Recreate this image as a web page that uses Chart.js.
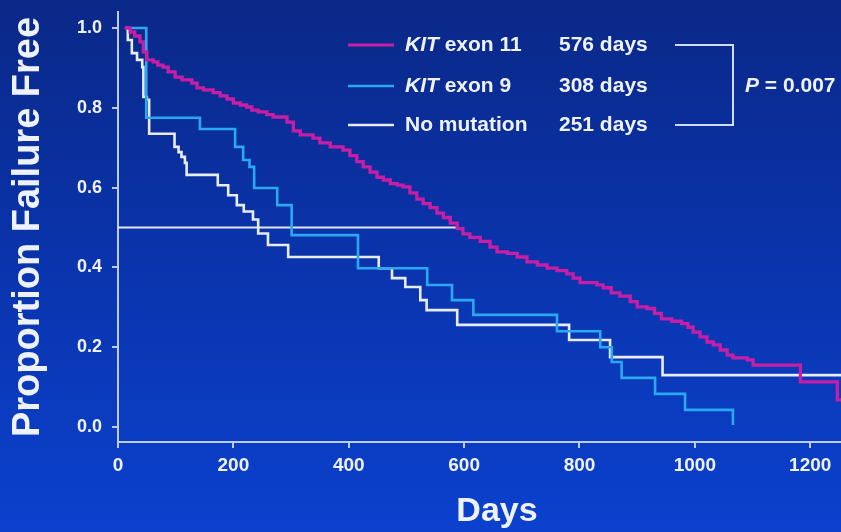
<!DOCTYPE html>
<html><head><meta charset="utf-8">
<script src="https://cdn.jsdelivr.net/npm/chart.js@4.4.0/dist/chart.umd.min.js"></script>
<style>
html,body{margin:0;padding:0;overflow:hidden;background:#0a34ad;}
#wrap{position:relative;width:876px;height:532px;}
</style>
</head><body>
<div id="wrap"><canvas id="c" width="876" height="532"></canvas></div>
<script>
// ---- data ----
const kit11Days = [12,21,29,38,44,50,61,69,78,87,99,111,128,137,148,165,177,189,200,212,223,232,243,258,269,293,304,316,338,350,368,390,402,414,425,437,449,460,472,484,494,506,518,529,541,553,564,576,588,598,610,628,645,657,675,692,709,727,744,761,778,789,801,830,841,855,870,888,900,917,930,942,960,977,988,997,1009,1021,1032,1044,1056,1066,1091,1101,1183,1247,1310];
const kit11Surv = [1.0,0.99,0.98,0.965,0.94,0.92,0.915,0.907,0.902,0.89,0.877,0.87,0.862,0.85,0.845,0.838,0.83,0.822,0.812,0.807,0.802,0.794,0.79,0.783,0.777,0.764,0.742,0.732,0.724,0.712,0.702,0.694,0.68,0.665,0.652,0.639,0.626,0.619,0.61,0.606,0.602,0.587,0.571,0.56,0.55,0.536,0.525,0.511,0.497,0.484,0.475,0.465,0.451,0.439,0.435,0.426,0.414,0.406,0.398,0.392,0.384,0.373,0.362,0.356,0.349,0.336,0.328,0.314,0.301,0.297,0.285,0.271,0.265,0.259,0.25,0.238,0.226,0.213,0.206,0.193,0.18,0.173,0.168,0.155,0.113,0.068,0.068];

const kit9Days = [12,49,142,203,217,228,236,276,301,416,536,579,616,761,836,856,873,931,983,1066];
const kit9Surv = [1.0,0.775,0.747,0.702,0.669,0.652,0.599,0.556,0.481,0.398,0.356,0.318,0.281,0.24,0.2,0.163,0.123,0.083,0.043,0.005];

const noMutDays = [12,17,24,33,42,44,50,54,98,105,110,116,119,173,191,206,218,234,243,260,295,452,475,498,524,535,588,782,853,944,1310];
const noMutSurv = [1.0,0.97,0.937,0.92,0.902,0.827,0.82,0.735,0.702,0.689,0.677,0.662,0.632,0.606,0.581,0.556,0.54,0.52,0.485,0.456,0.426,0.398,0.373,0.351,0.318,0.293,0.256,0.218,0.175,0.13,0.13];

const medianDays = [0, 588];
const medianSurv = [0.5, 0.5];

const xTicks = [0,200,400,600,800,1000,1200];
const yTicks = [0,0.2,0.4,0.6,0.8,1.0];

const legendItalic = ['KIT','KIT',''];
const legendRest = [' exon 11',' exon 9','No mutation'];
const medianLabels = ['576 days','308 days','251 days'];
const pItalic = 'P';
const pRest = ' = 0.007';
const xTitle = 'Days';
const yTitle = 'Proportion Failure Free';

// ---- styling ----
const FONT = '"Liberation Sans", Arial, Helvetica, sans-serif';
const C_MAG = '#c81ea6', C_BLUE = '#2aa8f2', C_WHITE = '#e6ecfa', C_AXIS = '#bccbf2', C_TEXT = '#eef2ff';
const zip = (xs, ys) => xs.map((x, i) => ({x, y: ys[i]}));

const bgPlugin = {
  id: 'bg',
  beforeDraw(chart) {
    const ctx = chart.ctx, w = chart.width, h = chart.height;
    const g = ctx.createLinearGradient(0, 0, 0, h);
    g.addColorStop(0, '#0a2887');
    g.addColorStop(0.5, '#0a34ad');
    g.addColorStop(1, '#0b41cd');
    ctx.save(); ctx.fillStyle = g; ctx.fillRect(0, 0, w, h); ctx.restore();
  }
};

const legendPlugin = {
  id: 'kmLegend',
  afterDraw(chart) {
    const ctx = chart.ctx;
    const rows = [45, 86, 125];
    const cols = [C_MAG, C_BLUE, C_WHITE];
    ctx.save();
    ctx.textBaseline = 'middle';
    ctx.fillStyle = C_TEXT;
    rows.forEach((y, i) => {
      ctx.strokeStyle = cols[i]; ctx.lineWidth = i === 0 ? 3.2 : 2.6;
      ctx.beginPath(); ctx.moveTo(348, y); ctx.lineTo(394, y); ctx.stroke();
      let x = 405;
      if (legendItalic[i]) {
        ctx.font = 'italic bold 21px ' + FONT;
        ctx.fillText(legendItalic[i], x, y);
        x += ctx.measureText(legendItalic[i]).width;
      }
      ctx.font = 'bold 21px ' + FONT;
      ctx.fillText(legendRest[i], x, y);
      ctx.fillText(medianLabels[i], 559, y);
    });
    ctx.strokeStyle = '#d0dcff'; ctx.lineWidth = 2;
    ctx.beginPath();
    ctx.moveTo(675, rows[0]); ctx.lineTo(733, rows[0]); ctx.lineTo(733, rows[2]); ctx.lineTo(675, rows[2]);
    ctx.stroke();
    let px = 745;
    ctx.font = 'italic bold 21px ' + FONT;
    ctx.fillText(pItalic, px, rows[1]);
    px += ctx.measureText(pItalic).width;
    ctx.font = 'bold 21px ' + FONT;
    ctx.fillText(pRest, px, rows[1]);
    ctx.restore();
  }
};

Chart.defaults.font.family = FONT;

new Chart(document.getElementById('c'), {
  type: 'line',
  data: {
    datasets: [
      {data: zip(kit11Days, kit11Surv), borderColor: C_MAG, borderWidth: 3.3, stepped: true},
      {data: zip(kit9Days, kit9Surv), borderColor: C_BLUE, borderWidth: 2.6, stepped: true},
      {data: zip(noMutDays, noMutSurv), borderColor: C_WHITE, borderWidth: 2.6, stepped: true},
      {data: zip(medianDays, medianSurv), borderColor: '#dfe7ff', borderWidth: 2}
    ]
  },
  options: {
    responsive: false,
    devicePixelRatio: 1,
    animation: false,
    layout: {padding: {top: 12, left: 0, right: 0, bottom: 0}},
    elements: {point: {radius: 0}, line: {tension: 0, fill: false, borderCapStyle: 'butt', borderJoinStyle: 'miter'}},
    plugins: {legend: {display: false}, tooltip: {enabled: false}},
    scales: {
      x: {
        type: 'linear', min: 0, max: 1314,
        afterFit(s) { s.height = 90; s.paddingLeft = 0; s.paddingRight = 0; },
        afterBuildTicks(s) { s.ticks = xTicks.map(v => ({value: v})); },
        ticks: {color: C_TEXT, font: {size: 19, weight: 'bold'}, padding: 6, maxRotation: 0, autoSkip: false, callback: v => String(v)},
        grid: {drawOnChartArea: false, drawTicks: true, tickLength: 6, color: C_AXIS, lineWidth: 2},
        border: {display: true, color: C_AXIS, width: 2},
        title: {display: true, text: xTitle, color: C_TEXT, font: {size: 34, weight: 'bold'}, padding: {top: 0, bottom: 0}}
      },
      y: {
        type: 'linear', min: -0.0376, max: 1.0401,
        afterFit(s) { s.width = 118; s.paddingTop = 0; s.paddingBottom = 0; },
        afterBuildTicks(s) { s.ticks = yTicks.map(v => ({value: v})); },
        ticks: {color: C_TEXT, font: {size: 18, weight: 'bold'}, padding: 10, callback: v => Number(v).toFixed(1)},
        grid: {drawOnChartArea: false, drawTicks: true, tickLength: 6, color: C_AXIS, lineWidth: 2},
        border: {display: true, color: C_AXIS, width: 2},
        title: {display: true, text: yTitle, color: C_TEXT, font: {size: 38, weight: 'bold'}, padding: {top: 6, bottom: 0}}
      }
    }
  },
  plugins: [bgPlugin, legendPlugin]
});
</script>
</body></html>
